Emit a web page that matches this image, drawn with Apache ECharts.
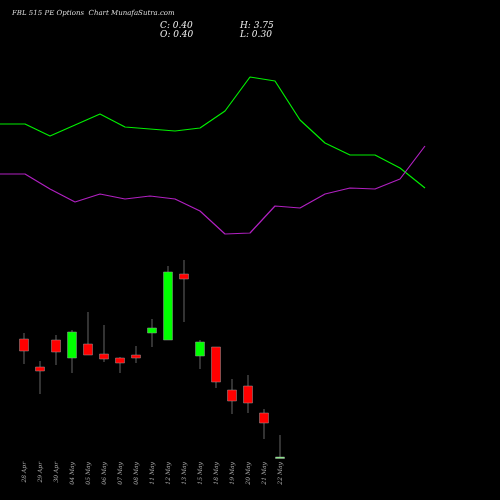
<!DOCTYPE html>
<html><head><meta charset="utf-8">
<script src="https://cdn.jsdelivr.net/npm/echarts@6/dist/echarts.min.js"></script>
<style>html,body{margin:0;background:#000}#c{width:500px;height:500px}</style>
</head><body><div id="c"></div>
<script>
const dates=['28 Apr','29 Apr','30 Apr','04 May','05 May','06 May','07 May','08 May','11 May','12 May','13 May','15 May','18 May','19 May','20 May','21 May','22 May'];
// values on a relative scale (higher = higher price)
const opens =[161,133,160,142,156,146,142,145,167,160,226,144,153,110,114,87,43];
const closes=[149,129,148,168,145,141,137,142,172,228,221,158,118,99,97,77,43];
const highs =[167,139,165,170,188,175,143,154,181,234,240,160,153,121,125,91,65];
const lows  =[136,106,135,127,145,138,127,137,153,160,178,131,112,86,87,61,43];
const lineX=['1','2','3','4','5','6','7','8','9','10','11','12','13','14','15','16','17','18'];
const greenLine=[376,376,364,375,386,373,371,369,372,389,423,419,380,357,345,345,332,312];
const purpleLine=[326,326,311,298,306,301,304,301,289,266,267,294,292,306,312,311,321,354];
const candleData=dates.map((d,i)=>[i,opens[i],closes[i],lows[i],highs[i]]);
const chart=echarts.init(document.getElementById('c'));
const serif='DejaVu Serif';
chart.setOption({
 backgroundColor:'#000',animation:false,
 graphic:[
  {type:'text',left:12,top:10,style:{text:'FBL 515 PE Options  Chart MunafaSutra.com',fill:'#ddd',font:'italic 7px "'+serif+'"'}},
  {type:'text',left:160,top:21,style:{text:'C: 0.40',fill:'#eee',font:'italic 9px "'+serif+'"'}},
  {type:'text',left:160,top:30,style:{text:'O: 0.40',fill:'#eee',font:'italic 9px "'+serif+'"'}},
  {type:'text',left:240,top:21,style:{text:'H: 3.75',fill:'#eee',font:'italic 9px "'+serif+'"'}},
  {type:'text',left:240,top:30,style:{text:'L: 0.30',fill:'#eee',font:'italic 9px "'+serif+'"'}}
 ],
 grid:[{left:16,width:272,top:0,height:500},{left:0,width:425,top:0,height:500}],
 xAxis:[
  {type:'category',data:dates,gridIndex:0,position:'bottom',offset:-38,axisLine:{show:false},axisTick:{show:false},
   axisLabel:{rotate:90,color:'#aaa',fontSize:6,fontFamily:serif,fontStyle:'italic',interval:0,margin:0,verticalAlign:'middle',align:'right'}},
  {type:'category',data:lineX,gridIndex:1,boundaryGap:false,show:false}
 ],
 yAxis:[{type:'value',min:0,max:500,gridIndex:0,show:false},{type:'value',min:0,max:500,gridIndex:1,show:false}],
 series:[
  {type:'line',xAxisIndex:1,yAxisIndex:1,data:greenLine,symbol:'none',lineStyle:{color:'#00ee00',width:1.2}},
  {type:'line',xAxisIndex:1,yAxisIndex:1,data:purpleLine,symbol:'none',lineStyle:{color:'#b020c0',width:1.2}},
  {type:'custom',xAxisIndex:0,yAxisIndex:0,data:candleData,
   renderItem:(p,api)=>{
    const x=api.value(0),o=api.value(1),c=api.value(2),l=api.value(3),h=api.value(4);
    const pl=api.coord([x,l]),ph=api.coord([x,h]),po=api.coord([x,o]),pc=api.coord([x,c]);
    const w=9,up=c>o;let top=Math.min(po[1],pc[1]),bh=Math.max(Math.abs(po[1]-pc[1]),1.5);
    const col=(o===c)?'#88ff88':(up?'#00ff00':'#ff0000');
    return {type:'group',children:[
     {type:'line',shape:{x1:pl[0],y1:pl[1],x2:ph[0],y2:ph[1]},style:{stroke:'#555',lineWidth:1.2}},
     {type:'rect',shape:{x:po[0]-w/2,y:top,width:w,height:bh},style:{fill:col,stroke:'#999',lineWidth:0.5}}
    ]};
   }}
 ]
});
</script></body></html>
